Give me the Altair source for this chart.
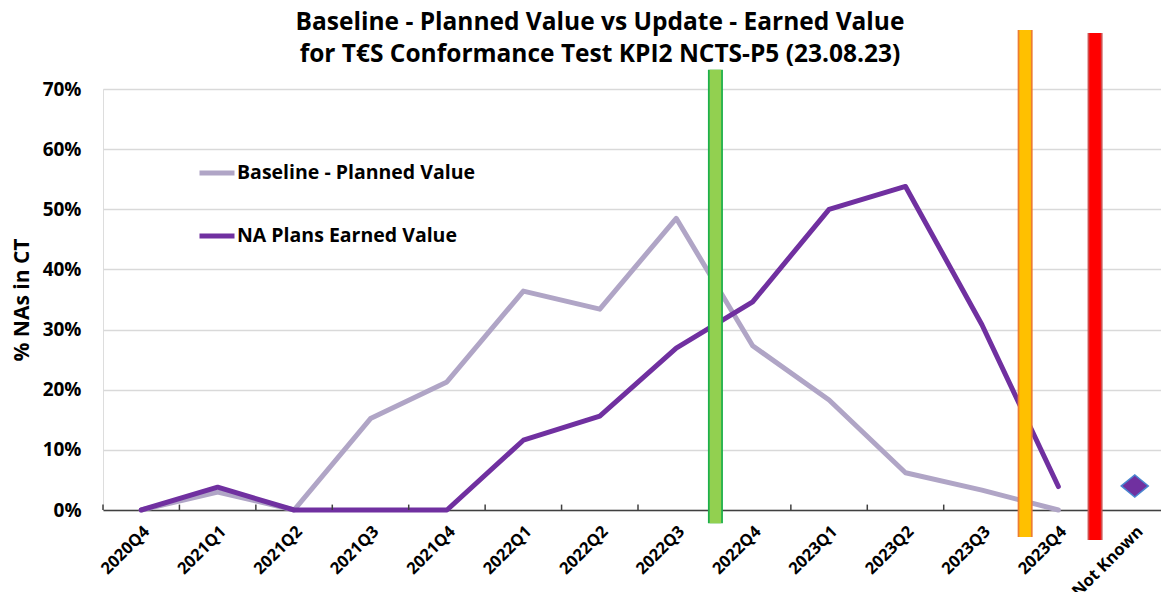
import altair as alt
import pandas as pd

categories = ["2020Q4", "2021Q1", "2021Q2", "2021Q3", "2021Q4", "2022Q1", "2022Q2",
              "2022Q3", "2022Q4", "2023Q1", "2023Q2", "2023Q3", "2023Q4", "Not Known"]
baseline = [0.0, 0.030, 0.0, 0.152, 0.213, 0.364, 0.334, 0.485, 0.273, 0.183, 0.062, 0.033, 0.0, None]
earned = [0.0, 0.038, 0.0, 0.0, 0.0, 0.116, 0.156, 0.269, 0.346, 0.500, 0.538, 0.308, 0.039, None]
not_known_value = 0.040

series_names = ["Baseline - Planned Value", "NA Plans Earned Value"]
series_colors = ["#B0A5C6", "#7030A0"]

milestone_cats = ["2022Q4", "2023Q4", "Not Known"]
milestone_lo = [-0.022, -0.045, -0.050]
milestone_hi = [0.732, 0.798, 0.793]
milestone_fill = ["#92D050", "#FFC000", "#FF0000"]
milestone_edge = ["#1EB04A", "#ED7D31", "#D05050"]

FONT = "Open Sans"

rows = []
for c, b, e in zip(categories, baseline, earned):
    if b is not None:
        rows.append({"cat": c, "series": series_names[0], "value": b})
    if e is not None:
        rows.append({"cat": c, "series": series_names[1], "value": e})
lines_df = pd.DataFrame(rows)
point_df = pd.DataFrame({"cat": ["Not Known"], "value": [not_known_value]})
ms_df = pd.DataFrame({"cat": milestone_cats, "lo": milestone_lo, "hi": milestone_hi,
                      "fill": milestone_fill, "edge": milestone_edge})
ticks_df = pd.DataFrame({"cat": categories})

# band scale runs slightly past the right edge of the page, as in the reference
x_scale = alt.Scale(domain=categories, paddingInner=0, paddingOuter=0, range=[0, 1070])
y_scale = alt.Scale(domain=[0, 0.7], nice=False, zero=False)

x_axis = alt.Axis(labelAngle=-45, labelFontSize=16.5, labelFont=FONT, labelFontWeight="bold",
                  labelColor="black", ticks=False, domainColor="#404040", domainWidth=1.5,
                  labelPadding=13, title=None, grid=False)
y_axis = alt.Axis(format=".0%", values=[0, 0.1, 0.2, 0.3, 0.4, 0.5, 0.6, 0.7],
                  labelFontSize=19, labelFont=FONT, labelFontWeight="bold", labelColor="black",
                  labelPadding=22, ticks=False, domain=False, gridColor="#D9D9D9", gridWidth=1.5,
                  title="% NAs in CT", titleFont=FONT, titleFontSize=21, titleFontWeight="bold",
                  titleColor="black", titlePadding=10)

base_lines = alt.Chart(lines_df).mark_line(strokeWidth=5, strokeCap="round", strokeJoin="round").encode(
    x=alt.X("cat:N", scale=x_scale, sort=categories, axis=x_axis),
    y=alt.Y("value:Q", scale=y_scale, axis=y_axis),
    color=alt.Color("series:N", scale=alt.Scale(domain=series_names, range=series_colors),
                    legend=alt.Legend(orient="none", legendX=94, legendY=64, title=None,
                                      symbolType="stroke", symbolSize=1225, symbolStrokeWidth=5,
                                      labelFontSize=19.5, labelFont=FONT, labelFontWeight="bold",
                                      labelColor="black", rowPadding=33, labelOffset=0, padding=0,
                                      labelLimit=500)),
    order=alt.Order("series:N"),
)

ticks = alt.Chart(ticks_df).mark_rule(color="#404040", strokeWidth=1.5).encode(
    x=alt.X("cat:N", scale=x_scale, sort=categories, bandPosition=0),
    y=alt.datum(0),
    y2=alt.datum(0.009),
)

diamond = alt.Chart(point_df).mark_point(
    shape="M-1,0L0,-0.82L1,0L0,0.82Z", filled=True, fill="#7030A0", stroke="#4A86D0",
    strokeWidth=1.5, opacity=1, size=729
).encode(
    x=alt.X("cat:N", scale=x_scale, sort=categories),
    y=alt.Y("value:Q", scale=y_scale),
)

def milestone_layer(cat, dx):
    d = alt.Chart(ms_df).transform_filter(alt.datum.cat == cat)
    outer = d.mark_rule(strokeWidth=15, xOffset=dx).encode(
        x=alt.X("cat:N", scale=x_scale, sort=categories, bandPosition=0),
        y=alt.Y("lo:Q", scale=y_scale),
        y2="hi:Q",
        color=alt.Color("edge:N", scale=None),
    )
    inner = d.mark_rule(strokeWidth=11.5, xOffset=dx).encode(
        x=alt.X("cat:N", scale=x_scale, sort=categories, bandPosition=0),
        y=alt.Y("lo:Q", scale=y_scale),
        y2=alt.Y2("hi:Q"),
        color=alt.Color("fill:N", scale=None),
    )
    return outer + inner

m1 = milestone_layer("2022Q4", 1)
m2 = milestone_layer("2023Q4", 5)
m3 = milestone_layer("Not Known", -1.5)

chart = alt.layer(base_lines, ticks, diamond, m1, m2, m3).properties(
    width=1058, height=421,
    title=alt.TitleParams(
        text=["Baseline - Planned Value vs Update - Earned Value",
              "for T€S Conformance Test KPI2 NCTS-P5 (23.08.23)"],
        font=FONT, fontSize=24.5, fontWeight="bold", color="black", anchor="middle",
        baseline="bottom", dx=-32, dy=69, offset=0, lineHeight=32),
    autosize=alt.AutoSizeParams(type="none"),
    padding={"left": 95, "top": 81, "right": 0, "bottom": 82},
).configure_view(stroke=None).configure(background="white")

chart.save("out.html", embed_options={"renderer": "svg", "actions": False})
